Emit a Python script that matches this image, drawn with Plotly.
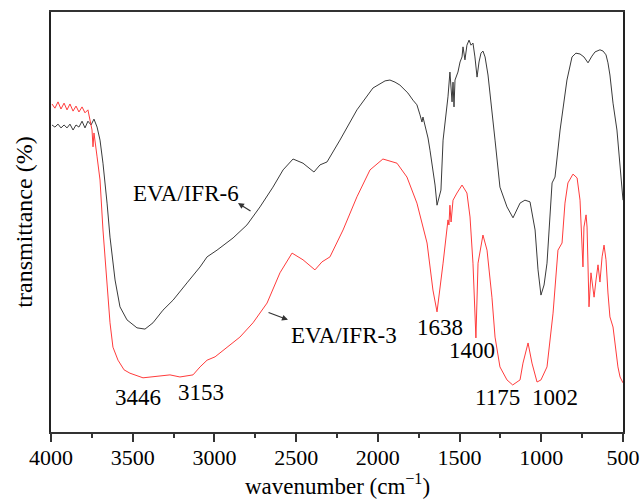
import plotly.graph_objects as go

# FTIR spectra: wavenumber (cm-1) vs transmittance (arbitrary %, offset for clarity)
ifr6_wn = [3994, 3976, 3957, 3939, 3920, 3902, 3884, 3865, 3847, 3829, 3810, 3792, 3774, 3755,
           3737, 3718, 3700, 3682, 3657, 3639, 3608, 3578, 3535, 3474, 3425, 3376, 3315, 3253,
           3168, 3088, 3045, 2984, 2886, 2801, 2721, 2642, 2580, 2519, 2458, 2391, 2354, 2311,
           2232, 2128, 2030, 1956, 1926, 1895, 1865, 1846, 1816, 1785, 1761, 1742, 1730, 1724,
           1712, 1699, 1693, 1681, 1669, 1650, 1638, 1614, 1601, 1577, 1571, 1559, 1546, 1540,
           1534, 1528, 1510, 1497, 1485, 1479, 1467, 1455, 1442, 1430, 1418, 1406, 1393, 1381,
           1369, 1357, 1344, 1326, 1314, 1295, 1283, 1253, 1210, 1173, 1142, 1130, 1100, 1069,
           1038, 1020, 1002, 983, 965, 947, 934, 916, 885, 843, 812, 788, 763, 739, 714, 690,
           671, 641, 622, 604, 592, 580, 561, 537, 518, 500]
ifr6_t = [73.1, 72.6, 73.3, 72.4, 73.1, 72.4, 73.3, 71.9, 73.1, 72.6, 74.0, 72.4, 74.0, 73.1,
          74.5, 72.6, 69.5, 64.0, 54.5, 46.4, 36.2, 29.8, 26.7, 24.8, 24.5, 26.0, 29.0, 31.4,
          35.5, 39.3, 41.7, 43.3, 46.2, 49.3, 53.6, 58.3, 62.4, 65.0, 64.0, 61.9, 63.6, 64.3,
          69.5, 76.7, 81.9, 83.6, 83.8, 83.3, 82.6, 81.9, 80.7, 79.0, 77.9, 75.5, 73.8, 75.0,
          73.1, 71.4, 70.0, 67.1, 64.0, 58.8, 54.0, 57.6, 69.5, 77.1, 79.8, 85.7, 78.6, 83.3,
          77.4, 83.8, 85.7, 88.1, 89.3, 91.7, 88.6, 92.1, 93.3, 92.1, 92.6, 89.3, 84.5, 88.1,
          90.2, 90.7, 89.3, 85.0, 80.2, 73.1, 69.5, 58.3, 53.6, 51.0, 53.3, 54.5, 55.2, 54.8,
          48.1, 38.6, 32.6, 35.0, 40.2, 50.5, 59.3, 60.7, 71.9, 83.8, 89.3, 90.2, 90.0, 89.3,
          87.9, 89.5, 90.5, 91.0, 90.7, 89.8, 87.9, 85.0, 78.3, 71.9, 64.0, 55.2]

ifr3_wn = [3994, 3976, 3957, 3939, 3920, 3902, 3884, 3865, 3847, 3829, 3810, 3792, 3774, 3761,
           3749, 3743, 3737, 3718, 3700, 3682, 3657, 3639, 3621, 3590, 3553, 3517, 3437, 3333,
           3272, 3211, 3131, 3088, 3045, 2996, 2923, 2844, 2764, 2678, 2599, 2525, 2458, 2385,
           2342, 2293, 2213, 2128, 2048, 1969, 1883, 1822, 1761, 1699, 1663, 1638, 1601, 1571,
           1565, 1559, 1552, 1540, 1516, 1485, 1455, 1436, 1418, 1400, 1387, 1357, 1332, 1302,
           1283, 1253, 1210, 1175, 1130, 1112, 1081, 1057, 1026, 1002, 965, 928, 898, 873, 855,
           837, 806, 781, 763, 751, 745, 739, 726, 720, 714, 708, 696, 684, 677, 665, 653, 641,
           628, 616, 604, 592, 580, 561, 549, 531, 518, 500]
ifr3_t = [78.1, 77.1, 78.6, 76.9, 78.3, 76.7, 78.1, 76.4, 77.6, 76.2, 77.4, 76.0, 76.7, 74.3,
          71.9, 67.9, 71.2, 65.5, 60.0, 48.1, 36.2, 26.0, 20.2, 17.1, 14.8, 14.0, 12.9, 13.3,
          13.6, 13.1, 13.6, 15.5, 17.1, 17.9, 20.2, 22.6, 26.0, 30.7, 37.9, 42.6, 41.0, 38.6,
          40.5, 41.7, 48.1, 56.0, 62.4, 65.0, 64.0, 60.7, 54.5, 45.0, 33.8, 28.6, 40.2, 50.5,
          49.3, 54.0, 50.0, 55.2, 56.9, 58.8, 56.9, 51.2, 40.2, 22.4, 40.2, 46.9, 43.3, 32.1,
          22.6, 15.5, 12.4, 11.2, 12.4, 16.4, 21.2, 16.4, 11.9, 12.4, 15.5, 28.3, 43.3, 45.0, 54.5,
          59.3, 61.4, 60.5, 55.2, 45.0, 39.3, 48.8, 51.7, 48.8, 39.3, 29.8, 37.9, 33.8, 32.1, 36.2,
          39.8, 35.7, 41.7, 44.5, 41.0, 33.1, 27.4, 25.0, 21.2, 15.5, 13.1, 11.7]

x_ticks = [4000, 3500, 3000, 2500, 2000, 1500, 1000, 500]

# band assignments: (wavenumber, label height, horizontal nudge in px)
band_wn = [3446, 3153, 1638, 1400, 1175, 1002]
band_t = [8.1, 9.3, 24.8, 19.5, 8.1, 8.1]
band_shift = [-4, 12, 3, -4, -15, 14]

serif = "Liberation Serif"

fig = go.Figure()
fig.add_trace(go.Scatter(x=ifr6_wn, y=ifr6_t, mode="lines", name="EVA/IFR-6",
                         line=dict(color="#3a3a3a", width=1)))
fig.add_trace(go.Scatter(x=ifr3_wn, y=ifr3_t, mode="lines", name="EVA/IFR-3",
                         line=dict(color="#ff3b3b", width=1)))

annotations = []
for wn, t, dx in zip(band_wn, band_t, band_shift):
    annotations.append(dict(x=wn, y=t, text=str(wn), showarrow=False, xshift=dx,
                            font=dict(family=serif, size=23, color="black")))

# sample labels with pointer arrows
annotations.append(dict(x=3174, y=56.9, text="EVA/IFR-6", showarrow=False,
                        font=dict(family=serif, size=23, color="black")))
annotations.append(dict(x=2856, y=54.5, ax=2770, ay=52.4, axref="x", ayref="y", text="",
                        showarrow=True, arrowhead=2, arrowsize=1, arrowwidth=1.2,
                        arrowcolor="#333"))
annotations.append(dict(x=2207, y=22.9, text="EVA/IFR-3", showarrow=False,
                        font=dict(family=serif, size=23, color="black")))
annotations.append(dict(x=2550, y=26.7, ax=2678, ay=28.6, axref="x", ayref="y", text="",
                        showarrow=True, arrowhead=2, arrowsize=1, arrowwidth=1.2,
                        arrowcolor="#333"))

# x-axis title placed below the tick labels, flush with the bottom edge
annotations.append(dict(x=0.5, y=0, xref="paper", yref="paper", yanchor="bottom",
                        yshift=-68, showarrow=False, text="wavenumber (cm<sup>−1</sup>)",
                        borderpad=0,
                        font=dict(family=serif, size=23, color="black")))

fig.update_layout(
    width=644, height=500,
    margin=dict(l=51, r=21, t=12, b=68),
    paper_bgcolor="white", plot_bgcolor="white",
    showlegend=False,
    font=dict(family=serif, color="black"),
    annotations=annotations,
)
fig.update_xaxes(
    range=[4000, 500], tickvals=x_ticks, ticktext=[str(v) for v in x_ticks],
    showline=True, linecolor="#333", linewidth=2, mirror=True, automargin=False,
    ticks="outside", ticklen=8, tickwidth=1.5, tickcolor="#333",
    ticklabelstandoff=-3,
    minor=dict(ticks="outside", ticklen=4, tickwidth=1.5, tickcolor="#333",
               tick0=500, dtick=250),
    showgrid=False, zeroline=False,
    tickfont=dict(family=serif, size=22, color="black"),
)
fig.update_yaxes(
    range=[0, 100], showline=True, linecolor="#222", linewidth=2, mirror=True,
    automargin=False,
    ticks="", showticklabels=False, showgrid=False, zeroline=False,
    title=dict(text="transmittance (%)", font=dict(family=serif, size=24, color="black"),
               standoff=10),
)

fig.write_html("out.html")
